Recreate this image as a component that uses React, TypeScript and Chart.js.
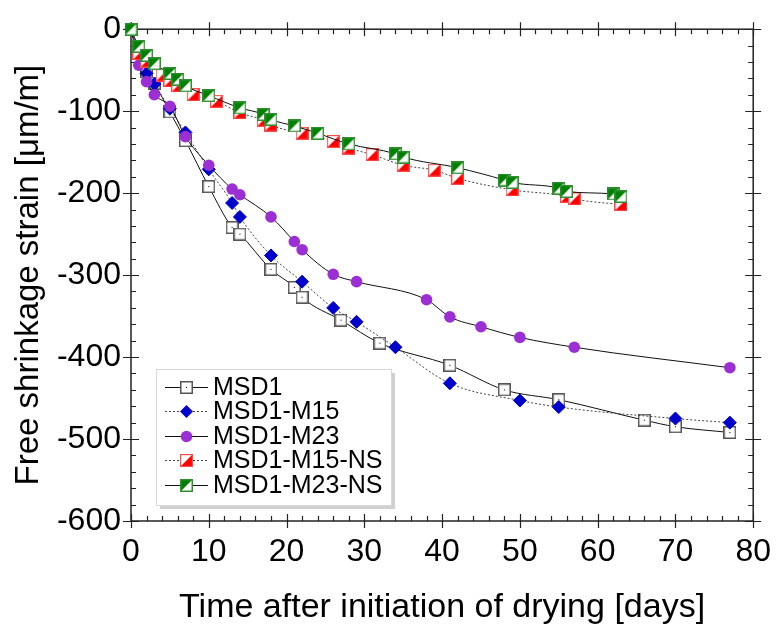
import React, { useEffect, useRef } from "react";
import { Chart, registerables } from "chart.js";
Chart.register(...registerables);

// ---- data ----
const seriesNames = ["MSD1", "MSD1-M15", "MSD1-M23", "MSD1-M15-NS", "MSD1-M23-NS"];

const msd1Days = [0, 1, 2, 3, 5, 7, 10, 13, 14, 18, 21, 22, 27, 32, 41, 48, 55, 66, 70, 77];
const msd1Strain = [0, -30, -52, -66, -101, -136, -192, -242, -250, -293, -315, -327, -355, -383, -410, -440, -452, -477, -485, -492];

const m15Days = [0, 1, 2, 3, 5, 7, 10, 13, 14, 18, 22, 26, 29, 34, 41, 50, 55, 70, 77];
const m15Strain = [0, -30, -54, -67, -97, -126, -171, -212, -229, -276, -308, -340, -357, -388, -432, -453, -461, -475, -480];

const m23Days = [0, 1, 2, 3, 5, 7, 10, 13, 14, 18, 21, 22, 26, 29, 38, 41, 45, 50, 57, 77];
const m23Strain = [0, -44, -64, -80, -94, -131, -166, -195, -202, -229, -259, -269, -299, -308, -330, -351, -363, -376, -388, -413];

const m15nsDays = [0, 1, 2, 4, 5, 6, 8, 11, 14, 17, 18, 22, 26, 28, 31, 35, 39, 42, 49, 56, 57, 63];
const m15nsStrain = [0, -30, -39, -56, -63, -69, -80, -88, -102, -111, -117, -127, -137, -145, -153, -166, -172, -182, -196, -204, -207, -214];

const m23nsDays = [0, 1, 2, 3, 5, 6, 7, 10, 14, 17, 18, 21, 24, 28, 34, 35, 42, 48, 49, 55, 56, 62, 63];
const m23nsStrain = [0, -21, -32, -42, -54, -61, -69, -81, -96, -104, -110, -118, -127, -140, -152, -156, -169, -184, -187, -194, -198, -201, -204];

const xMin = 0, xMax = 80, xMajor = 10, xMinor = 2;
const yMin = -600, yMax = 0, yMajor = 100, yMinor = 20;
const xTitle = "Time after initiation of drying [days]";
const yTitle = "Free shrinkage strain [μm/m]";

const FONT = "'Liberation Sans', Arial, sans-serif";

function mk(size: number, draw: (g: CanvasRenderingContext2D, s: number) => void) {
  const c = document.createElement("canvas");
  c.width = size; c.height = size;
  const g = c.getContext("2d")!;
  draw(g, size);
  return c;
}

function App() {
  const ref = useRef<HTMLCanvasElement | null>(null);
  useEffect(() => {
    const S = 13;
    const sqOpen = mk(S, (g, s) => {
      g.fillStyle = "#fff"; g.fillRect(0, 0, s, s);
      g.strokeStyle = "#555"; g.lineWidth = 1.5; g.strokeRect(0.75, 0.75, s - 1.5, s - 1.5);
      g.fillStyle = "#000"; g.fillRect(Math.floor(s / 2), Math.floor(s / 2), 1, 1);
    });
    const sqRed = mk(S, (g, s) => {
      g.fillStyle = "#fff"; g.fillRect(0, 0, s, s);
      g.fillStyle = "#ff0000"; g.beginPath(); g.moveTo(s, 0); g.lineTo(s, s); g.lineTo(0, s); g.closePath(); g.fill();
      g.strokeStyle = "#ff4a4a"; g.lineWidth = 1.2; g.strokeRect(0.6, 0.6, s - 1.2, s - 1.2);
    });
    const sqGreen = mk(S, (g, s) => {
      g.fillStyle = "#fff"; g.fillRect(0, 0, s, s);
      g.fillStyle = "#008000"; g.beginPath(); g.moveTo(0, 0); g.lineTo(s, 0); g.lineTo(0, s); g.closePath(); g.fill();
      g.strokeStyle = "#2f8f2f"; g.lineWidth = 1.5; g.strokeRect(0.75, 0.75, s - 1.5, s - 1.5);
    });

    const pts = (d: number[], v: number[]) => d.map((x, i) => ({ x, y: v[i] }));
    const base = { showLine: true, cubicInterpolationMode: "monotone" as const, clip: false as any, borderWidth: 1 };

    const datasets: any[] = [
      { ...base, label: seriesNames[0], data: pts(msd1Days, msd1Strain), borderColor: "#111", pointStyle: sqOpen, order: 5 },
      { ...base, label: seriesNames[1], data: pts(m15Days, m15Strain), borderColor: "#444", borderDash: [2, 2], pointStyle: "rectRot", pointRadius: 6.5, pointBackgroundColor: "#0000cd", pointBorderColor: "#0000cd", pointBorderWidth: 1, order: 4 },
      { ...base, label: seriesNames[2], data: pts(m23Days, m23Strain), borderColor: "#111", pointStyle: "circle", pointRadius: 5.8, pointBackgroundColor: "#9b2fd4", pointBorderColor: "#9b2fd4", pointBorderWidth: 0, order: 3 },
      { ...base, label: seriesNames[3], data: pts(m15nsDays, m15nsStrain), borderColor: "#444", borderDash: [2, 2], pointStyle: sqRed, order: 2 },
      { ...base, label: seriesNames[4], data: pts(m23nsDays, m23nsStrain), borderColor: "#111", pointStyle: sqGreen, order: 1 },
    ];

    const framePlugin = {
      id: "frameTicks",
      beforeDatasetsDraw(chart: any) {
        const { ctx, chartArea: { left, right, top, bottom }, scales: { x, y } } = chart;
        ctx.save();
        ctx.strokeStyle = "#222";
        ctx.lineWidth = 1.5;
        ctx.strokeRect(left, top, right - left, bottom - top);
        ctx.lineWidth = 1.2;
        ctx.beginPath();
        for (let v = xMin; v <= xMax + 1e-9; v += xMinor) {
          const px = Math.round(x.getPixelForValue(v)) + 0.5;
          if (Math.abs(v % xMajor) < 1e-9) {
            ctx.moveTo(px, bottom - 7); ctx.lineTo(px, bottom + 7);
            ctx.moveTo(px, top - 7); ctx.lineTo(px, top + 7);
          } else {
            ctx.moveTo(px, bottom); ctx.lineTo(px, bottom - 5);
            ctx.moveTo(px, top); ctx.lineTo(px, top + 5);
          }
        }
        for (let v = yMin; v <= yMax + 1e-9; v += yMinor) {
          const py = Math.round(y.getPixelForValue(v)) + 0.5;
          if (Math.abs(v % yMajor) < 1e-9) {
            ctx.moveTo(left - 8, py); ctx.lineTo(left + 8, py);
            ctx.moveTo(right - 8, py); ctx.lineTo(right + 8, py);
          } else {
            ctx.moveTo(left, py); ctx.lineTo(left + 5, py);
            ctx.moveTo(right, py); ctx.lineTo(right - 5, py);
          }
        }
        ctx.stroke();
        ctx.restore();
      },
      afterDraw(chart: any) {
        const ctx = chart.ctx;
        const bx = 156, by = 369, bw = 235, bh = 136;
        ctx.save();
        ctx.fillStyle = "#d0d0d0";
        ctx.fillRect(bx + 4, by + 4, bw, bh);
        ctx.fillStyle = "#fff";
        ctx.fillRect(bx, by, bw, bh);
        ctx.strokeStyle = "#d8d8d8";
        ctx.lineWidth = 1;
        ctx.strokeRect(bx + 0.5, by + 0.5, bw, bh);
        const rowY0 = 387, dy = 24.4;
        const x1 = 165, x2 = 208, mx = 186.5;
        ctx.font = `25px ${FONT}`;
        ctx.textBaseline = "middle";
        chart.data.datasets.forEach((ds: any, i: number) => {
          const yy = Math.round(rowY0 + i * dy) + 0.5;
          ctx.strokeStyle = ds.borderColor;
          ctx.lineWidth = 1;
          ctx.setLineDash(ds.borderDash || []);
          ctx.beginPath(); ctx.moveTo(x1, yy); ctx.lineTo(x2, yy); ctx.stroke();
          ctx.setLineDash([]);
          const ps = ds.pointStyle;
          if (ps instanceof HTMLCanvasElement) {
            ctx.drawImage(ps, Math.round(mx - ps.width / 2), Math.round(yy - ps.height / 2));
          } else if (ps === "rectRot") {
            const r = ds.pointRadius;
            ctx.fillStyle = ds.pointBackgroundColor;
            ctx.beginPath(); ctx.moveTo(mx, yy - r); ctx.lineTo(mx + r, yy); ctx.lineTo(mx, yy + r); ctx.lineTo(mx - r, yy); ctx.closePath(); ctx.fill();
          } else {
            ctx.fillStyle = ds.pointBackgroundColor;
            ctx.beginPath(); ctx.arc(mx, yy, ds.pointRadius, 0, Math.PI * 2); ctx.fill();
          }
          ctx.fillStyle = "#000";
          ctx.fillText(ds.label, 213, yy + 1);
        });
        ctx.restore();
      },
    };

    const chart = new Chart(ref.current!, {
      type: "scatter",
      data: { datasets },
      options: {
        animation: false,
        responsive: false,
        layout: { padding: { top: 23, right: 20, left: 0, bottom: 0 } },
        plugins: { legend: { display: false }, tooltip: { enabled: false } },
        elements: { point: { radius: 6.5 } },
        scales: {
          x: {
            type: "linear", min: xMin, max: xMax,
            grid: { display: false, drawTicks: false },
            border: { display: false },
            ticks: { stepSize: xMajor, padding: 12, color: "#000", font: { family: FONT, size: 32 }, maxRotation: 0 },
            title: { display: true, text: xTitle, color: "#000", font: { family: FONT, size: 34 }, padding: { top: 0, bottom: 4 } },
            afterFit: (s: any) => { s.height = 111; },
          },
          y: {
            type: "linear", min: yMin, max: yMax,
            grid: { display: false, drawTicks: false },
            border: { display: false },
            ticks: { stepSize: yMajor, padding: 10, color: "#000", font: { family: FONT, size: 32 } },
            title: { display: true, text: yTitle, color: "#000", font: { family: FONT, size: 33 }, padding: { top: 9, bottom: 0 } },
            afterFit: (s: any) => { s.width = 131; },
          },
        },
      } as any,
      plugins: [framePlugin],
    });
    return () => chart.destroy();
  }, []);

  return (
    <div style={{ position: "fixed", left: 0, top: 0, width: 783, height: 632, background: "#fff" }}>
      <canvas ref={ref} width={783} height={632} style={{ display: "block" }} />
    </div>
  );
}

export default App;
